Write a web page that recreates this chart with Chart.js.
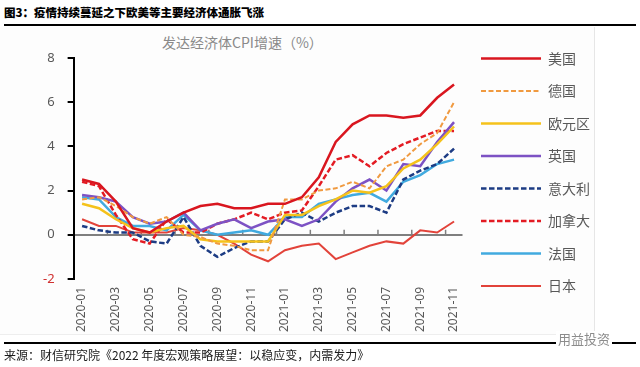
<!DOCTYPE html>
<html>
<head>
<meta charset="utf-8">
<script src="https://cdn.jsdelivr.net/npm/chart.js@4.4.1/dist/chart.umd.min.js"></script>
<style>
  body { margin: 0; width: 640px; height: 367px; background: #fff; position: relative; overflow: hidden; font-family: "Noto Sans CJK SC", sans-serif; }
  .header { position: absolute; left: 4px; top: 4px; font-size: 11.5px; font-weight: 900; color: #000; line-height: 16px; }
  .rule-top { position: absolute; left: 4px; right: 4px; top: 24px; height: 2px; background: #000; }
  .panel { position: absolute; left: 0; top: 27px; width: 594px; height: 307px; background: #fdfdfd; border-right: 1px solid #e6e6e6; border-bottom: 1px solid #eeeeee; }
  .chart-title { position: absolute; left: 162px; top: 33px; font-size: 14px; line-height: 18px; color: #8a8a8a; }
  #wrap { position: absolute; left: 0; top: 28px; width: 600px; height: 315px; }
  .rule-bottom { position: absolute; left: 4px; right: 4px; top: 342px; height: 2px; background: #000; }
  .source { position: absolute; left: 4px; top: 347px; font-size: 12px; line-height: 16px; color: #1a1a1a; }
  .mark { position: absolute; left: 556px; top: 331px; font-size: 13px; line-height: 16px; color: #8c8c8c; background: #fff; padding: 0 2px; }
</style>
</head>
<body>
<div class="header">图3：疫情持续蔓延之下欧美等主要经济体通胀飞涨</div>
<div class="rule-top"></div>
<div class="panel"></div>
<div class="chart-title">发达经济体CPI增速（%）</div>
<div id="wrap"><canvas id="cpiChart"></canvas></div>
<div class="rule-bottom"></div>
<div class="mark">用益投资</div>
<div class="source">来源：财信研究院《2022 年度宏观策略展望：以稳应变，内需发力》</div>
<script>
const months = [
  "2020-01", "2020-02", "2020-03", "2020-04", "2020-05", "2020-06",
  "2020-07", "2020-08", "2020-09", "2020-10", "2020-11", "2020-12",
  "2021-01", "2021-02", "2021-03", "2021-04", "2021-05", "2021-06",
  "2021-07", "2021-08", "2021-09", "2021-10", "2021-11"
];
const usCpi = [2.5, 2.3, 1.5, 0.3, 0.1, 0.6, 1.0, 1.3, 1.4, 1.2, 1.2, 1.4, 1.4, 1.7, 2.6, 4.2, 5.0, 5.4, 5.4, 5.3, 5.4, 6.2, 6.8];
const germanyCpi = [1.6, 1.7, 1.3, 0.8, 0.5, 0.8, 0.0, -0.1, -0.4, -0.5, -0.7, -0.7, 1.6, 1.6, 2.0, 2.1, 2.4, 2.1, 3.1, 3.4, 4.1, 4.6, 6.0];
const euroCpi = [1.4, 1.2, 0.7, 0.3, 0.1, 0.3, 0.4, -0.2, -0.3, -0.3, -0.3, -0.3, 0.9, 0.9, 1.3, 1.6, 2.0, 1.9, 2.2, 3.0, 3.4, 4.1, 4.9];
const ukCpi = [1.8, 1.7, 1.5, 0.8, 0.5, 0.6, 1.0, 0.2, 0.5, 0.7, 0.3, 0.6, 0.7, 0.4, 0.7, 1.5, 2.1, 2.5, 2.0, 3.2, 3.1, 4.2, 5.1];
const italyCpi = [0.4, 0.2, 0.1, 0.1, -0.3, -0.4, 0.8, -0.5, -1.0, -0.6, -0.3, -0.3, 0.7, 1.0, 0.6, 1.0, 1.3, 1.3, 1.0, 2.5, 2.9, 3.2, 3.9];
const canadaCpi = [2.4, 2.2, 0.9, -0.2, -0.4, 0.7, 0.1, 0.1, 0.5, 0.7, 1.0, 0.7, 1.0, 1.1, 2.2, 3.4, 3.6, 3.1, 3.7, 4.1, 4.4, 4.7, 4.7];
const franceCpi = [1.7, 1.6, 0.8, 0.4, 0.4, 0.2, 0.9, 0.2, 0.0, 0.1, 0.2, 0.0, 0.8, 0.8, 1.4, 1.6, 1.8, 1.9, 1.5, 2.4, 2.7, 3.2, 3.4];
const japanCpi = [0.7, 0.4, 0.4, 0.1, 0.1, 0.1, 0.3, 0.2, 0.0, -0.4, -0.9, -1.2, -0.7, -0.5, -0.4, -1.1, -0.8, -0.5, -0.3, -0.4, 0.2, 0.1, 0.6];
const yTicks = [-2, 0, 2, 4, 6, 8];

// small tick marks sitting on the zero line, every two months
const zeroLineTicks = {
  id: "zeroLineTicks",
  beforeDatasetsDraw(chart) {
    const { ctx, scales: { x, y } } = chart;
    const y0 = y.getPixelForValue(0);
    const half = (x.getPixelForValue(1) - x.getPixelForValue(0)) / 2;
    ctx.save();
    ctx.strokeStyle = "#7f7f7f";
    ctx.lineWidth = 1.5;
    for (let i = 1; i < months.length; i += 2) {
      const px = x.getPixelForValue(i) + half;
      ctx.beginPath();
      ctx.moveTo(px, y0);
      ctx.lineTo(px, y0 - 5);
      ctx.stroke();
    }
    ctx.restore();
  },
};

const line = (label, data, color, width, dash) => ({
  label, data,
  borderColor: color,
  backgroundColor: color,
  borderWidth: width,
  borderDash: dash || [],
  pointRadius: 0,
  tension: 0,
  fill: false,
});

new Chart(document.getElementById("cpiChart"), {
  type: "line",
  data: {
    labels: months,
    datasets: [
      line("美国", usCpi, "#D9161F", 2.5),
      line("德国", germanyCpi, "#F09A40", 2, [5, 2.5]),
      line("欧元区", euroCpi, "#F5C21B", 2.5),
      line("英国", ukCpi, "#7D52C4", 2.5),
      line("意大利", italyCpi, "#1D3C84", 2.5, [5.5, 2.5]),
      line("加拿大", canadaCpi, "#E31B23", 2.5, [5.5, 2.5]),
      line("法国", franceCpi, "#41AADF", 2.5),
      line("日本", japanCpi, "#E2433A", 2),
    ],
  },
  options: {
    responsive: true,
    maintainAspectRatio: false,
    animation: false,
    layout: { padding: { top: 5, left: 30, right: 0, bottom: 3 } },
    plugins: {
      // empty title only reserves the gap above the plot
      title: { display: true, text: "", fullSize: false, padding: 0, font: { size: 25, lineHeight: 1 } },
      tooltip: { enabled: false },
      legend: {
        position: "right",
        align: "start",
        labels: {
          usePointStyle: true,
          pointStyle: "line",
          pointStyleWidth: 60,
          padding: 18.5,
          color: "#595959",
          font: { family: "Noto Sans CJK SC", size: 14 },
          generateLabels: (chart) => {
            const items = Chart.defaults.plugins.legend.labels.generateLabels(chart);
            items.forEach((it) => {
              const ds = chart.data.datasets[it.datasetIndex];
              it.lineDash = ds.borderDash;
              it.lineWidth = ds.borderWidth;
              it.strokeStyle = ds.borderColor;
              it.pointStyle = "line";
            });
            return items;
          },
        },
      },
    },
    scales: {
      x: {
        offset: true,
        grid: { display: false, drawTicks: false },
        border: { display: false },
        ticks: {
          autoSkip: false,
          minRotation: 90,
          maxRotation: 90,
          padding: 8,
          color: "#595959",
          font: { family: "Noto Sans", size: 12 },
          callback: (val, i) => (i % 2 === 0 ? months[i] : ""),
        },
      },
      y: {
        min: yTicks[0],
        max: yTicks[yTicks.length - 1],
        afterBuildTicks: (scale) => {
          scale.ticks = yTicks.map((v) => ({ value: v }));
        },
        border: { display: true, color: "#000", width: 2 },
        grid: {
          color: (c) => (c.tick && c.tick.value === 0 ? "#7f7f7f" : "rgba(0,0,0,0)"),
          lineWidth: 2,
          tickColor: "#000",
          tickWidth: 2,
          tickLength: 6,
        },
        ticks: {
          padding: 13,
          color: (c) => (c.tick.value < 0 ? "#D03030" : "#595959"),
          font: { family: "Noto Sans", size: 13 },
        },
      },
    },
  },
  plugins: [zeroLineTicks],
});
</script>
</body>
</html>
